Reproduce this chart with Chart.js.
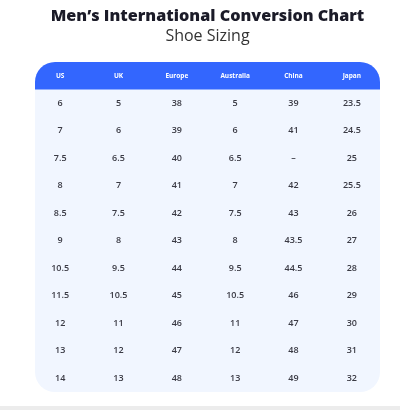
<!DOCTYPE html>
<html>
<head>
<meta charset="utf-8">
<script src="https://cdn.jsdelivr.net/npm/chart.js@4"></script>
<style>
  html, body { margin: 0; padding: 0; background: #fff; width: 400px; height: 410px; overflow: hidden; }
  .title { position: absolute; left: 0; width: 415px; text-align: center; font-family: "Open Sans", sans-serif; }
  #t1 { top: 5px; font-size: 16.2px; font-weight: 800; color: #1b1b28; line-height: 20px; }
  #t2 { top: 24px; font-size: 16px; font-weight: 400; color: #333; line-height: 22px; }
  #wrap { position: absolute; left: 0; top: 0; width: 400px; height: 410px; }
  #foot { position: absolute; left: 0; top: 406px; width: 400px; height: 4px; background: #ececec; }
</style>
</head>
<body>
<div id="wrap"><canvas id="sizeChart"></canvas></div>
<div class="title" id="t1">Men’s International Conversion Chart</div>
<div class="title" id="t2">Shoe Sizing</div>
<div id="foot"></div>
<script>
// column headers and row values
const columns = ['US', 'UK', 'Europe', 'Australia', 'China', 'Japan'];
const us = ['6', '7', '7.5', '8', '8.5', '9', '10.5', '11.5', '12', '13', '14'];
const uk = ['5', '6', '6.5', '7', '7.5', '8', '9.5', '10.5', '11', '12', '13'];
const europe = ['38', '39', '40', '41', '42', '43', '44', '45', '46', '47', '48'];
const australia = ['5', '6', '6.5', '7', '7.5', '8', '9.5', '10.5', '11', '12', '13'];
const china = ['39', '41', '–', '42', '43', '43.5', '44.5', '46', '47', '48', '49'];
const japan = ['23.5', '24.5', '25', '25.5', '26', '27', '28', '29', '30', '31', '32'];

const columnValues = [us, uk, europe, australia, china, japan];
const rowKeys = ['header'].concat(us.map((v, i) => 'row' + i));

const datasets = columns.map((col, c) => {
    const data = [{ x: col, y: 'header', text: col, head: true }];
    columnValues[c].forEach((v, i) => {
        data.push({ x: col, y: 'row' + i, text: v, head: false });
    });
    return { label: col, data, pointRadius: 0, pointHoverRadius: 0 };
});

function roundRect(ctx, x, y, w, h, rTop, rBottom) {
    ctx.beginPath();
    ctx.moveTo(x + rTop, y);
    ctx.lineTo(x + w - rTop, y);
    ctx.arcTo(x + w, y, x + w, y + rTop, rTop);
    ctx.lineTo(x + w, y + h - rBottom);
    ctx.arcTo(x + w, y + h, x + w - rBottom, y + h, rBottom);
    ctx.lineTo(x + rBottom, y + h);
    ctx.arcTo(x, y + h, x, y + h - rBottom, rBottom);
    ctx.lineTo(x, y + rTop);
    ctx.arcTo(x, y, x + rTop, y, rTop);
    ctx.closePath();
}

const tablePlugin = {
    id: 'tablePlugin',
    beforeDatasetsDraw(chart) {
        const { ctx, chartArea, scales } = chart;
        const y = scales.y;
        const rowH = y.getPixelForValue(1) - y.getPixelForValue(0);
        const left = chartArea.left + 4;
        const right = chartArea.right - 1;
        const headBottom = y.getPixelForValue(0) + rowH / 2;
        ctx.save();
        // body
        ctx.fillStyle = '#f1f6ff';
        roundRect(ctx, left, headBottom - 2, right - left, chartArea.bottom - headBottom + 2, 0, 20);
        ctx.fill();
        // header
        ctx.fillStyle = '#3366fe';
        roundRect(ctx, left, chartArea.top, right - left, headBottom - chartArea.top, 20, 0);
        ctx.fill();
        ctx.restore();
    },
    afterDatasetsDraw(chart) {
        const ctx = chart.ctx;
        ctx.save();
        ctx.textAlign = 'center';
        ctx.textBaseline = 'middle';
        chart.data.datasets.forEach((ds, d) => {
            const meta = chart.getDatasetMeta(d);
            meta.data.forEach((el, i) => {
                const item = ds.data[i];
                if (item.head) {
                    ctx.font = '700 6.5px "Open Sans"';
                    ctx.fillStyle = '#ffffff';
                } else {
                    ctx.font = '600 9px "Open Sans"';
                    ctx.fillStyle = '#3a3a44';
                }
                ctx.fillText(item.text, el.x, el.y);
            });
        });
        ctx.restore();
    }
};

new Chart(document.getElementById('sizeChart'), {
    type: 'scatter',
    data: { datasets },
    plugins: [tablePlugin],
    options: {
        responsive: true,
        maintainAspectRatio: false,
        animation: false,
        layout: { padding: { left: 31, right: 19, top: 62, bottom: 18 } },
        scales: {
            x: { type: 'category', labels: columns, offset: true, display: false },
            y: { type: 'category', labels: rowKeys, offset: true, display: false }
        },
        plugins: {
            legend: { display: false },
            tooltip: { enabled: false }
        }
    }
});
</script>
</body>
</html>
